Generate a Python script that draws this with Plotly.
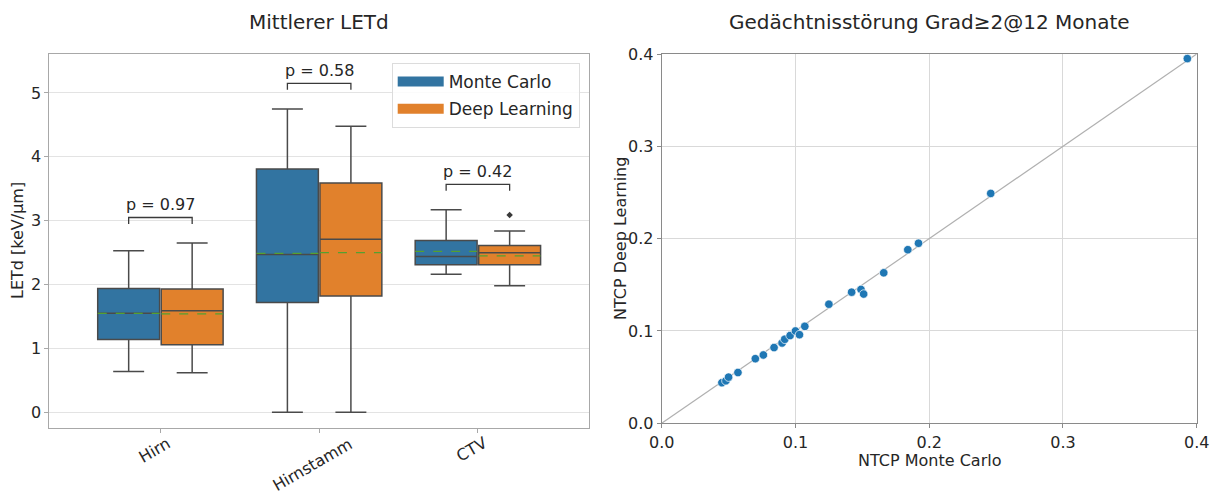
import plotly.graph_objects as go

# ---- box plot data: mean LETd per structure ----
structures = ["Hirn", "Hirnstamm", "CTV"]
methods = ["Monte Carlo", "Deep Learning"]

mc_lower = [0.64, 0.0, 2.16]
mc_q1 = [1.14, 1.72, 2.31]
mc_median = [1.55, 2.47, 2.44]
mc_q3 = [1.94, 3.81, 2.69]
mc_upper = [2.53, 4.75, 3.17]
mc_mean = [1.55, 2.49, 2.52]

dl_lower = [0.62, 0.0, 1.98]
dl_q1 = [1.06, 1.82, 2.31]
dl_median = [1.59, 2.71, 2.50]
dl_q3 = [1.93, 3.59, 2.61]
dl_upper = [2.65, 4.48, 2.84]
dl_mean = [1.54, 2.50, 2.45]

dl_outlier_x = ["CTV"]
dl_outlier_y = [3.09]

p_values = [0.97, 0.58, 0.42]

# ---- scatter data: NTCP memory impairment grade>=2 at 12 months ----
ntcp_mc = [0.045, 0.048, 0.050, 0.057, 0.070, 0.076, 0.084, 0.090, 0.092, 0.096,
           0.100, 0.103, 0.107, 0.125, 0.142, 0.149, 0.151, 0.166, 0.184, 0.192,
           0.246, 0.393]
ntcp_dl = [0.044, 0.046, 0.050, 0.055, 0.070, 0.074, 0.082, 0.087, 0.091, 0.095,
           0.100, 0.096, 0.105, 0.129, 0.142, 0.145, 0.140, 0.163, 0.188, 0.195,
           0.249, 0.395]
ntcp_limits = [0.0, 0.4]

BLUE = "#3274a1"
ORANGE = "#e1812c"
EDGE = "#4a4a4a"
TXT = "#262626"
FONT = "DejaVu Sans"
W, H = 1213, 498

hue_offset = 0.2
box_w = 0.39

fig = go.Figure()

groups = [
    (methods[0], BLUE, -hue_offset, mc_lower, mc_q1, mc_median, mc_q3, mc_upper, mc_mean),
    (methods[1], ORANGE, hue_offset, dl_lower, dl_q1, dl_median, dl_q3, dl_upper, dl_mean),
]
for name, color, off, lo, q1, med, q3, up, mean in groups:
    xs = [i + off for i in range(len(structures))]
    fig.add_trace(go.Box(
        x=xs, lowerfence=lo, q1=q1, median=med, q3=q3, upperfence=up,
        width=box_w, whiskerwidth=0.5, fillcolor=color,
        line=dict(color=EDGE, width=1.5), name=name, showlegend=False,
        xaxis="x", yaxis="y", hoverinfo="skip",
    ))
    # dashed mean line across each box
    for x, m in zip(xs, mean):
        fig.add_trace(go.Scatter(
            x=[x - box_w / 2, x + box_w / 2], y=[m, m], mode="lines",
            line=dict(color="#55a030", width=1.2, dash="dash"),
            showlegend=False, xaxis="x", yaxis="y", hoverinfo="skip",
        ))
    # legend proxy
    fig.add_trace(go.Scatter(
        x=[None], y=[None], mode="lines", name=name,
        line=dict(color=color, width=10), legendgroup=name,
        xaxis="x", yaxis="y",
    ))

# outlier
fig.add_trace(go.Scatter(
    x=[structures.index(s) + hue_offset for s in dl_outlier_x], y=dl_outlier_y,
    mode="markers", marker=dict(symbol="diamond", size=5, color="#3a3a3a"),
    showlegend=False, xaxis="x", yaxis="y", hoverinfo="skip",
))

# significance brackets
annotations = []
for i, p in enumerate(p_values):
    top = max(mc_upper[i], dl_upper[i]) + 0.4
    fig.add_trace(go.Scatter(
        x=[i - hue_offset, i - hue_offset, i + hue_offset, i + hue_offset],
        y=[top - 0.1, top, top, top - 0.1], mode="lines",
        line=dict(color="#3a3a3a", width=1.3),
        showlegend=False, xaxis="x", yaxis="y", hoverinfo="skip",
    ))
    annotations.append(dict(
        x=i, y=top + 0.02, xref="x", yref="y", text=f"p = {p:.2f}",
        showarrow=False, xanchor="center", yanchor="bottom",
        font=dict(size=16, color=TXT, family=FONT),
    ))

# rotated category labels
for i, s in enumerate(structures):
    annotations.append(dict(
        x=i - 0.04, y=1 - 431 / H, xref="x", yref="paper", text=s, textangle=-30,
        showarrow=False, yanchor="top", xanchor="center",
        font=dict(size=16, color=TXT, family=FONT),
    ))

# identity line and NTCP scatter
fig.add_trace(go.Scatter(
    x=ntcp_limits, y=ntcp_limits, mode="lines",
    line=dict(color="#b0b0b0", width=1.2), showlegend=False,
    xaxis="x2", yaxis="y2", hoverinfo="skip",
))
fig.add_trace(go.Scatter(
    x=ntcp_mc, y=ntcp_dl, mode="markers",
    marker=dict(color="#1f77b4", size=8.5, line=dict(color="white", width=0.7)),
    showlegend=False, xaxis="x2", yaxis="y2",
))


def label(text, x, y, size, angle=0):
    return dict(text=text, x=x / W, y=1 - y / H, xref="paper", yref="paper",
                showarrow=False, xanchor="center", yanchor="middle",
                textangle=angle, font=dict(size=size, color=TXT, family=FONT))


annotations += [
    label("Mittlerer LETd", (49.3 + 589) / 2, 22, 20),
    label("Gedächtnisstörung Grad≥2@12 Monate", (661.7 + 1196.7) / 2, 22, 20),
    label("LETd [keV/µm]", 17, 241, 16, -90),
    label("NTCP Deep Learning", 620, 239, 16, -90),
    label("NTCP Monte Carlo", (661.7 + 1196.7) / 2, 460, 16),
]

axis_common = dict(
    showline=True, mirror=True, ticks="outside", ticklen=4, automargin=False,
    tickfont=dict(size=16, color=TXT, family=FONT), zeroline=False,
)

fig.update_layout(
    width=W, height=H,
    margin=dict(l=0, r=0, t=0, b=0),
    paper_bgcolor="white", plot_bgcolor="white",
    font=dict(family=FONT, color=TXT),
    annotations=annotations,
    xaxis=dict(
        domain=[49.3 / W, 589 / W], range=[-0.7, 2.7],
        tickvals=list(range(len(structures))), showticklabels=False,
        showgrid=False, linecolor="#a8a8a8", tickcolor="#a8a8a8", **axis_common,
    ),
    yaxis=dict(
        domain=[1 - 428.3 / H, 1 - 54 / H], range=[-0.25, 5.61],
        tickvals=[0, 1, 2, 3, 4, 5], showgrid=True, gridcolor="#e3e3e3",
        linecolor="#a8a8a8", tickcolor="#a8a8a8", **axis_common,
    ),
    xaxis2=dict(
        domain=[661.7 / W, 1196.7 / W], range=ntcp_limits,
        tickvals=[0, 0.1, 0.2, 0.3, 0.4], tickformat=".1f",
        showgrid=True, gridcolor="#d9d9d9", linecolor="#8a8a8a",
        tickcolor="#8a8a8a", anchor="y2", **axis_common,
    ),
    yaxis2=dict(
        domain=[1 - 423.3 / H, 1 - 54 / H], range=ntcp_limits,
        tickvals=[0, 0.1, 0.2, 0.3, 0.4], tickformat=".1f",
        showgrid=True, gridcolor="#d9d9d9", linecolor="#8a8a8a",
        tickcolor="#8a8a8a", anchor="x2", **axis_common,
    ),
    legend=dict(
        x=391.7 / W, y=1 - 63 / H, xanchor="left", yanchor="top",
        bgcolor="rgba(255,255,255,0.85)", bordercolor="#dcdcdc", borderwidth=1,
        font=dict(size=17, color=TXT, family=FONT), itemwidth=46,
        traceorder="grouped", tracegroupgap=2,
    ),
)

fig.write_html("out.html")
